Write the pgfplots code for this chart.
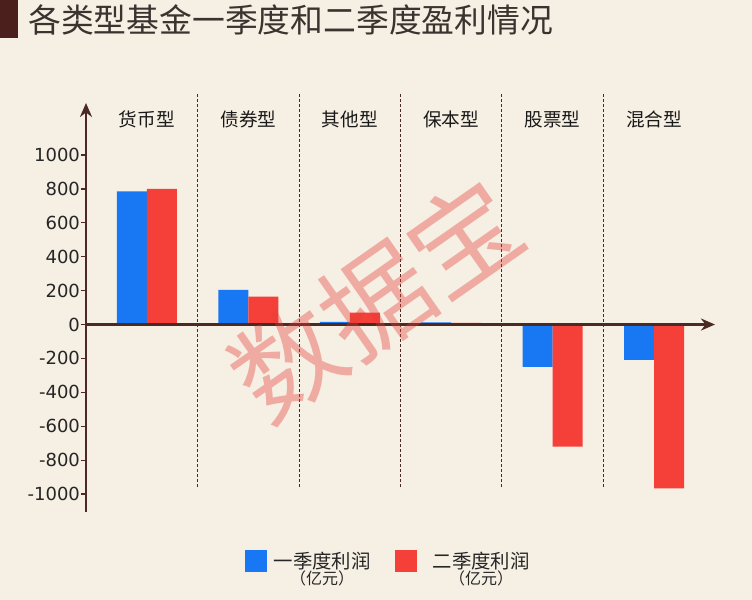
\documentclass[border=0pt]{standalone}
\usepackage{pgfplots}
\pgfplotsset{compat=1.18}
\usepackage{fontspec}
\setmainfont{Noto Sans CJK SC}
\newfontfamily\numfont{DejaVu Sans}
\usetikzlibrary{arrows.meta}
\definecolor{bg}{HTML}{F6EFE3}
\definecolor{titlebar}{HTML}{4A1F1C}
\definecolor{titlec}{HTML}{3A3430}
\definecolor{axisc}{HTML}{4A2A22}
\definecolor{blue1}{HTML}{1877F2}
\definecolor{red1}{HTML}{F5403A}
\definecolor{wm}{RGB}{228,60,55}
\begin{document}
\begin{tikzpicture}
\useasboundingbox (0,0) rectangle (376pt,300pt);
\fill[bg] (0,0) rectangle (376pt,300pt);
\fill[titlebar] (0,281pt) rectangle (9pt,300pt);
\node[anchor=west, inner sep=0, font=\fontsize{16.4}{18}\selectfont, text=titlec] at (14pt,290pt) {各类型基金一季度和二季度盈利情况};
\begin{axis}[
  at={(43pt,44pt)}, anchor=south west, scale only axis,
  width=314.5pt, height=204.5pt,
  xmin=-0.6, xmax=5.6, ymin=-1106, ymax=1307,
  axis x line=middle, axis y line=left,
  axis on top, clip=false,
  x axis line style={draw=axisc, line width=1.5pt, -{Stealth[length=7pt,width=6pt]}},
  y axis line style={draw=axisc, line width=1.3pt, -{Stealth[length=7pt,width=6pt]}},
  ybar=0pt, bar width=15pt,
  xtick=\empty,
  ytick={-1000,-800,-600,-400,-200,0,200,400,600,800,1000},
  hide obscured y ticks=false,
  tick align=outside, major tick length=2.5pt,
  ytick style={draw=axisc, line width=0.6pt},
  /pgf/number format/assume math mode=true,
  /pgf/number format/1000 sep={},
  yticklabel style={font=\numfont\fontsize{9}{10}\selectfont, text=black!85, xshift=3pt},
  legend style={at={(0.482,-0.088)}, anchor=north, draw=none, fill=none,
    font=\fontsize{9.7}{11}\selectfont, text=black!85, inner sep=0pt,
    /tikz/every even column/.append style={column sep=10pt}},
  legend columns=2,
]
\addplot[fill=blue1, draw=none, legend image code/.code={\fill[blue1] (0pt,-5pt) rectangle (11pt,6pt);}]
  coordinates {(0,785) (1,205) (2,15) (3,12) (4,-250) (5,-208)};
\addlegendentry{\hspace{1.5pt}\begin{tabular}[t]{@{}c@{}}一季度利润\\[-3pt]{\fontsize{8}{9}\selectfont （亿元）}\end{tabular}}
\addplot[fill=red1, draw=none, legend image code/.code={\fill[red1] (0pt,-5pt) rectangle (11pt,6pt);}]
  coordinates {(0,800) (1,165) (2,70) (3,10) (4,-720) (5,-967)};
\addlegendentry{\hspace{6pt}\begin{tabular}[t]{@{}c@{}}二季度利润\\[-3pt]{\fontsize{8}{9}\selectfont （亿元）}\end{tabular}}
\pgfplotsinvokeforeach{0.5,1.5,2.5,3.5,4.5}{
  \draw[axisc, line width=0.5pt, dash pattern=on 1.5pt off 1pt] (axis cs:#1,-960) -- (axis cs:#1,1370);
}
\node[font=\fontsize{9.3}{11}\selectfont, text=black!90] at (axis cs:0,1210) {货币型};
\node[font=\fontsize{9.3}{11}\selectfont, text=black!90] at (axis cs:1,1210) {债券型};
\node[font=\fontsize{9.3}{11}\selectfont, text=black!90] at (axis cs:2,1210) {其他型};
\node[font=\fontsize{9.3}{11}\selectfont, text=black!90] at (axis cs:3,1210) {保本型};
\node[font=\fontsize{9.3}{11}\selectfont, text=black!90] at (axis cs:4,1210) {股票型};
\node[font=\fontsize{9.3}{11}\selectfont, text=black!90] at (axis cs:5,1210) {混合型};
\end{axis}
\node[rotate=35, text=wm, text opacity=0.38, font=\fontsize{54}{58}\selectfont] at (188pt,150pt) {数据宝};
\end{tikzpicture}
\end{document}
